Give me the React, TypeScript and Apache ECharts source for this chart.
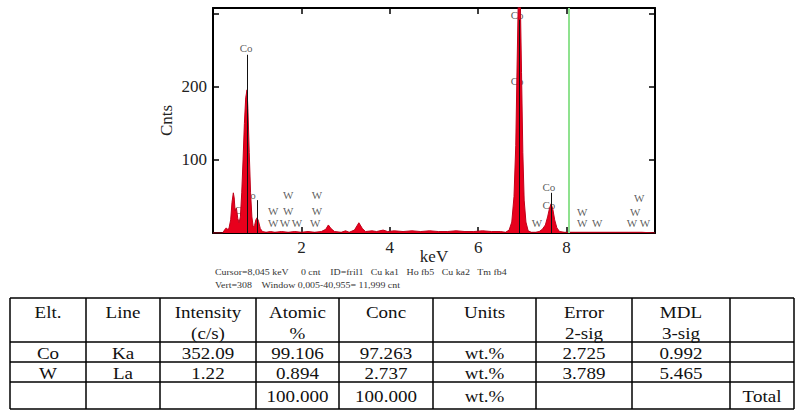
import React, { useEffect, useRef } from "react";
import * as echarts from "echarts";

// ---- spectrum (keV, counts) ----
const energies = [
  0.0, 0.22, 0.26, 0.3, 0.33, 0.36, 0.4, 0.43, 0.46, 0.48, 0.5, 0.53, 0.56, 0.59, 0.62, 0.65, 0.68, 0.71, 0.74, 0.77,
  0.79, 0.82, 0.85, 0.88, 0.91, 0.94, 0.97, 1.0, 1.03, 1.07, 1.12, 1.2, 1.3, 1.4, 1.55, 1.7, 1.85, 2.0, 2.15, 2.3,
  2.45, 2.55, 2.61, 2.67, 2.75, 2.9, 3.0, 3.08, 3.2, 3.3, 3.38, 3.45, 3.6, 3.7, 3.85, 3.95, 4.1, 4.3, 4.5, 4.7,
  4.9, 5.1, 5.3, 5.5, 5.7, 5.9, 6.1, 6.3, 6.5, 6.62, 6.7, 6.76, 6.81, 6.85, 6.88, 6.91, 6.93, 6.95, 6.98, 7.01,
  7.04, 7.08, 7.13, 7.2, 7.3, 7.38, 7.45, 7.52, 7.57, 7.61, 7.65, 7.69, 7.73, 7.78, 7.84, 7.95, 8.2, 8.5, 8.8, 9.1,
  9.4, 9.7, 10.0,
];
const counts = [
  0, 0, 4, 7, 5, 6, 18, 42, 55, 48, 30, 34, 20, 14, 22, 55, 100, 150, 185, 196,
  170, 110, 55, 22, 8, 10, 18, 21, 16, 6, 2, 1, 2, 1, 2, 1, 2, 1, 2, 1,
  2, 5, 11, 6, 2, 1, 3, 1, 4, 14, 6, 2, 3, 2, 4, 2, 3, 2, 3, 2,
  3, 2, 2, 3, 2, 2, 3, 2, 2, 1, 4, 15, 50, 120, 230, 330, 350, 330, 220, 110,
  45, 15, 3, 1, 1, 2, 5, 11, 22, 33, 40, 32, 18, 7, 2, 1, 1, 1, 1, 1,
  1, 1, 0,
];

// ---- element line markers (keV, top in counts) ----
const markerEnergies = [0.77, 1.0, 6.93, 7.65];
const markerTops = [244, 45, 292, 55];
const cursorEnergy = 8.045;

// ---- peak labels ----
const labelTexts = ["Co", "Co", "Co", "W", "W", "W", "W", "W", "W", "W", "W", "W", "Co", "Co", "W", "Co", "Co", "W", "W", "W", "W", "W", "W", "W"];
const labelEnergies = [0.75, 0.82, 0.63, 1.7, 2.35, 1.36, 1.7, 2.35, 1.36, 1.63, 1.9, 2.31, 6.88, 6.88, 7.33, 7.6, 7.6, 8.35, 8.35, 8.69, 9.64, 9.55, 9.48, 9.77];
const labelCounts = [253, 52, 31, 52, 52, 30, 30, 30, 14, 14, 14, 14, 298, 208, 14, 63, 38, 29, 14, 14, 48, 29, 14, 14];

// ---- axis ticks ----
const xTickLabels = [2, 4, 6, 8];
const yTickLabels = [100, 200];

// ---- info lines ----
const infoLine1 = "Cursor=8,045 keV     0 cnt    ID=fril1   Cu ka1   Ho fb5   Cu ka2   Tm fb4";
const infoLine2 = "Vert=308    Window 0,005-40,955= 11,999 cnt";

// ---- quantification table ----
const tableHeaderTop = ["Elt.", "Line", "Intensity", "Atomic", "Conc", "Units", "Error", "MDL", ""];
const tableHeaderBottom = ["", "", "(c/s)", "%", "", "", "2-sig", "3-sig", ""];
const colElement = ["Co", "W", ""];
const colLine = ["Ka", "La", ""];
const colIntensity = ["352.09", "1.22", ""];
const colAtomic = ["99.106", "0.894", "100.000"];
const colConc = ["97.263", "2.737", "100.000"];
const colUnits = ["wt.%", "wt.%", "wt.%"];
const colError = ["2.725", "3.789", ""];
const colMdl = ["0.992", "5.465", ""];
const colLast = ["", "", "Total"];

const FONT = "Liberation Serif, Times New Roman, serif";

export default function App() {
  const ref = useRef<HTMLDivElement>(null);

  useEffect(() => {
    if (!ref.current) return;
    const chart = echarts.init(ref.current, null, { renderer: "svg" });

    // table geometry
    const colX = [10, 86, 160, 256, 339, 433, 536, 632, 730, 794];
    const rowY = [298, 342, 362, 382, 409];
    const graphics: any[] = [];
    const lineStyle = { stroke: "#000", lineWidth: 1.5 };
    rowY.forEach((y) =>
      graphics.push({ type: "line", shape: { x1: colX[0], y1: y, x2: colX[colX.length - 1], y2: y }, style: lineStyle })
    );
    colX.forEach((x) =>
      graphics.push({ type: "line", shape: { x1: x, y1: rowY[0], x2: x, y2: rowY[rowY.length - 1] }, style: lineStyle })
    );
    const cellText = (text: string, cx: number, cy: number) => ({
      type: "text",
      x: cx,
      y: cy,
      scaleX: 1.12,
      style: {
        text,
        fontSize: 17,
        fontFamily: FONT,
        fill: "#111",
        align: "center",
        verticalAlign: "middle",
      },
    });
    for (let c = 0; c < 9; c++) {
      const cx = (colX[c] + colX[c + 1]) / 2;
      if (tableHeaderTop[c]) graphics.push(cellText(tableHeaderTop[c], cx, 312));
      if (tableHeaderBottom[c]) graphics.push(cellText(tableHeaderBottom[c], cx, 333));
    }
    const columns = [colElement, colLine, colIntensity, colAtomic, colConc, colUnits, colError, colMdl, colLast];
    for (let r = 0; r < 3; r++) {
      const cy = (rowY[r + 1] + rowY[r + 2]) / 2 + 1;
      columns.forEach((col, c) => {
        const cx = (colX[c] + colX[c + 1]) / 2;
        if (col[r]) graphics.push(cellText(col[r], cx, cy));
      });
    }
    graphics.push({
      type: "text",
      x: 215,
      y: 272,
      scaleX: 1.1,
      style: { text: infoLine1, fontSize: 9, fontFamily: FONT, fill: "#333", verticalAlign: "middle" },
    });
    graphics.push({
      type: "text",
      x: 215,
      y: 285,
      scaleX: 1.1,
      style: { text: infoLine2, fontSize: 9, fontFamily: FONT, fill: "#333", verticalAlign: "middle" },
    });

    const spectrum = energies.map((e, i) => [e, counts[i]]);
    const labels = labelEnergies.map((e, i) => ({ value: [e, labelCounts[i]], name: labelTexts[i] }));

    const axisCommon = {
      axisLine: { show: true, onZero: false, lineStyle: { color: "#000", width: 2 } },
      axisTick: { show: true, inside: true, length: 6, lineStyle: { color: "#000", width: 1.5 } },
      splitLine: { show: false },
    };

    chart.setOption({
      animation: false,
      backgroundColor: "#fff",
      textStyle: { fontFamily: FONT },
      grid: { left: 213, right: 140, top: 8, bottom: 179 },
      xAxis: [
        {
          type: "value",
          min: 0,
          max: 10,
          interval: 2,
          position: "bottom",
          ...axisCommon,
          axisLabel: {
            fontSize: 17,
            color: "#222",
            fontFamily: FONT,
            margin: 6,
            formatter: (v: number) => (xTickLabels.includes(v) ? String(v) : ""),
          },
          name: "keV",
          nameLocation: "middle",
          nameGap: 15,
          nameMoveOverlap: false,
          nameTextStyle: { fontSize: 17, color: "#222", fontFamily: FONT, verticalAlign: "top" },
        },
        {
          type: "value",
          min: 0,
          max: 10,
          interval: 2,
          position: "top",
          ...axisCommon,
          axisLabel: { show: false },
        },
      ],
      yAxis: [
        {
          type: "value",
          min: 0,
          max: 308,
          interval: 100,
          position: "left",
          ...axisCommon,
          axisLabel: {
            fontSize: 17,
            color: "#222",
            fontFamily: FONT,
            margin: 6,
            formatter: (v: number) => (yTickLabels.includes(v) ? String(v) : ""),
          },
          name: "Cnts",
          nameLocation: "middle",
          nameGap: 38,
          nameMoveOverlap: false,
          nameRotate: 90,
          nameTextStyle: { fontSize: 17, color: "#222", fontFamily: FONT },
        },
        {
          type: "value",
          min: 0,
          max: 308,
          interval: 100,
          position: "right",
          ...axisCommon,
          axisLabel: { show: false },
        },
      ],
      series: [
        {
          type: "line",
          data: spectrum,
          showSymbol: false,
          symbol: "none",
          lineStyle: { color: "#c0001a", width: 1 },
          areaStyle: { color: "#e8001c", opacity: 1 },
          clip: true,
          markLine: {
            silent: true,
            symbol: "none",
            label: { show: false },
            lineStyle: { color: "#111", width: 1, type: "solid" },
            data: [
              ...markerEnergies.map((e, i) => [{ coord: [e, 0] }, { coord: [e, markerTops[i]] }]),
              [
                { coord: [cursorEnergy, 0], lineStyle: { color: "#8fe28f", width: 2 } },
                { coord: [cursorEnergy, 308] },
              ],
            ],
          },
        },
        {
          type: "scatter",
          data: labels,
          symbolSize: 0,
          silent: true,
          label: {
            show: true,
            position: "inside",
            formatter: (p: any) => p.name,
            fontSize: 11,
            fontFamily: FONT,
            color: "#333",
          },
        },
      ],
      graphic: graphics,
    });

    return () => chart.dispose();
  }, []);

  return <div ref={ref} style={{ position: "absolute", left: 0, top: 0, width: 795, height: 412 }} />;
}
